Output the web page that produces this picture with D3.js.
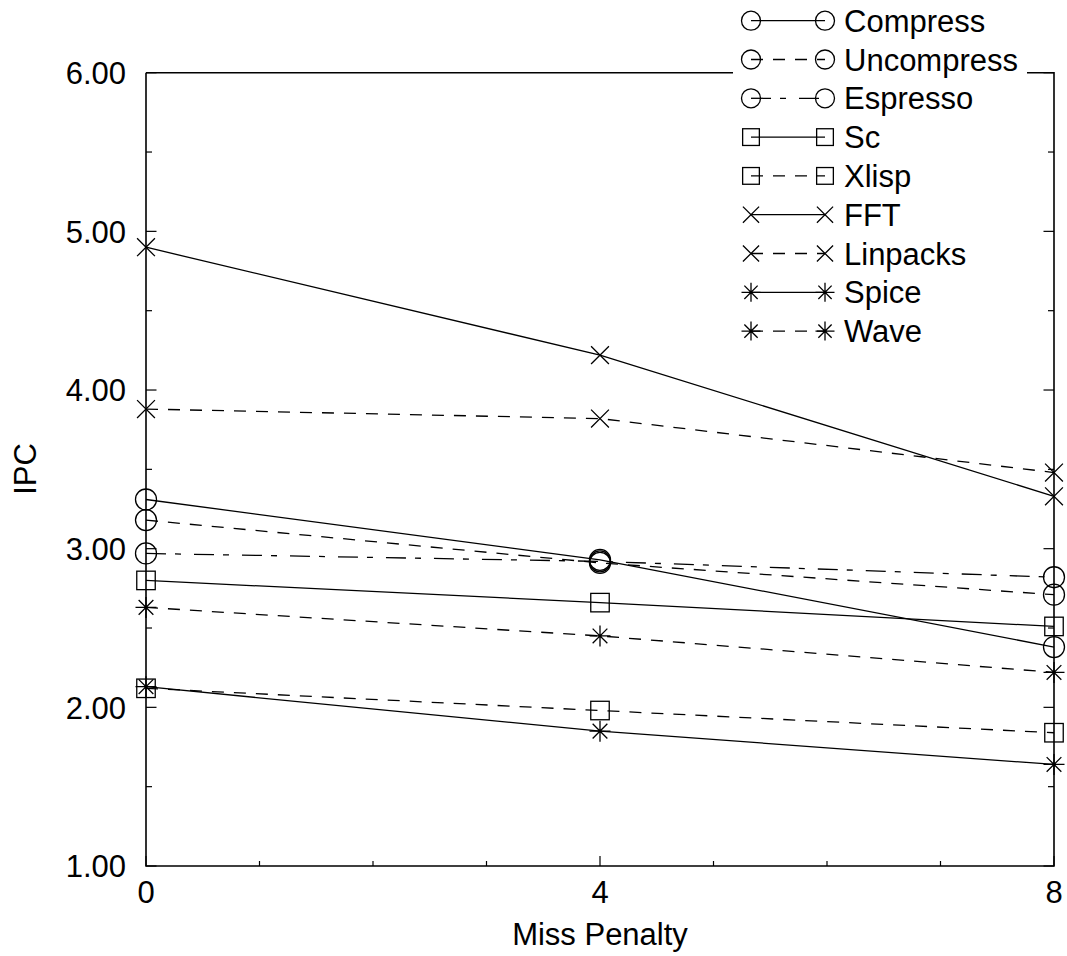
<!DOCTYPE html>
<html>
<head>
<meta charset="utf-8">
<script src="https://cdn.jsdelivr.net/npm/d3@7"></script>
<style>
  body { margin: 0; background: #fff; }
  text { font-family: "Liberation Sans", Arial, sans-serif; fill: #000; }
</style>
</head>
<body>
<script>
  // data
  var missPenalty = [0, 4, 8];
  var names = ['Compress', 'Uncompress', 'Espresso', 'Sc', 'Xlisp', 'FFT', 'Linpacks', 'Spice', 'Wave'];
  var compress   = [3.31, 2.93, 2.38];
  var uncompress = [3.18, 2.91, 2.71];
  var espresso   = [2.97, 2.92, 2.82];
  var sc         = [2.80, 2.66, 2.51];
  var xlisp      = [2.12, 1.98, 1.84];
  var fft        = [4.90, 4.22, 3.33];
  var linpacks   = [3.88, 3.82, 3.48];
  var spice      = [2.13, 1.85, 1.64];
  var wave       = [2.63, 2.45, 2.22];
  var yTicks = [1, 2, 3, 4, 5, 6];
  var xTicks = [0, 4, 8];

  var values = [compress, uncompress, espresso, sc, xlisp, fft, linpacks, spice, wave];
  var markers = ['circle', 'circle', 'circle', 'square', 'square', 'cross', 'cross', 'star', 'star'];
  var dashes = [null, '12,10', '20,9,6,13', null, '12,10', null, '12,10', null, '12,10'];

  var width = 1067, height = 956;
  var plotLeft = 146, plotRight = 1054, plotTop = 72.7, plotBottom = 866;
  var fontSize = 31;

  var svg = d3.select('body').append('svg').attr('width', width).attr('height', height);

  var x = d3.scaleLinear().domain([0, 8]).range([plotLeft, plotRight]);
  var y = d3.scaleLinear().domain([1, 6]).range([plotBottom, plotTop]);

  // frame: left, bottom, right, top
  var frame = svg.append('g').attr('stroke', '#000').attr('stroke-width', 1.6).attr('fill', 'none');
  frame.append('path').attr('d', 'M' + plotLeft + ',' + plotTop + 'V' + plotBottom + 'H' + plotRight + 'V' + plotTop + 'H' + plotLeft);

  // inward ticks on the left and right sides
  d3.range(1, 6.01, 0.5).forEach(function (v) {
    var len = (v % 1 === 0) ? 10.5 : 6;
    frame.append('line').attr('x1', plotLeft).attr('x2', plotLeft + len).attr('y1', y(v)).attr('y2', y(v)).attr('stroke-width', 1.2);
    frame.append('line').attr('x1', plotRight).attr('x2', plotRight - len).attr('y1', y(v)).attr('y2', y(v)).attr('stroke-width', 1.2);
  });
  d3.range(0, 8.01, 1).forEach(function (v) {
    var len = (v % 4 === 0) ? 10 : 5;
    frame.append('line').attr('x1', x(v)).attr('x2', x(v)).attr('y1', plotBottom).attr('y2', plotBottom - len).attr('stroke-width', 1.2);
  });

  // tick labels
  svg.selectAll('.ylab').data(yTicks).enter().append('text')
     .attr('class', 'ylab')
     .attr('x', 126)
     .attr('y', function (d) { return y(d); })
     .attr('dy', '0.36em')
     .attr('text-anchor', 'end')
     .attr('font-size', fontSize)
     .text(function (d) { return d.toFixed(2); });

  svg.selectAll('.xlab').data(xTicks).enter().append('text')
     .attr('class', 'xlab')
     .attr('x', function (d) { return x(d); })
     .attr('y', 903)
     .attr('text-anchor', 'middle')
     .attr('font-size', fontSize)
     .text(function (d) { return d; });

  svg.append('text').attr('x', x(4)).attr('y', 945).attr('text-anchor', 'middle')
     .attr('font-size', fontSize).text('Miss Penalty');
  svg.append('text').attr('transform', 'translate(36,469) rotate(-90)').attr('text-anchor', 'middle')
     .attr('font-size', fontSize).text('IPC');

  // marker drawing
  function drawMarker(g, kind, cx, cy, r) {
    if (kind === 'circle') {
      g.append('circle').attr('cx', cx).attr('cy', cy).attr('r', r);
    } else if (kind === 'square') {
      var s = r * 0.88;
      g.append('rect').attr('x', cx - s).attr('y', cy - s).attr('width', 2 * s).attr('height', 2 * s);
    } else if (kind === 'cross') {
      var c = r * 0.85;
      g.append('path').attr('d', 'M' + (cx - c) + ',' + (cy - c) + 'L' + (cx + c) + ',' + (cy + c) +
        'M' + (cx - c) + ',' + (cy + c) + 'L' + (cx + c) + ',' + (cy - c));
    } else {
      var a = r * 0.7, b = r;
      g.append('path').attr('d', 'M' + (cx - a) + ',' + (cy - a) + 'L' + (cx + a) + ',' + (cy + a) +
        'M' + (cx - a) + ',' + (cy + a) + 'L' + (cx + a) + ',' + (cy - a) +
        'M' + cx + ',' + (cy - b) + 'L' + cx + ',' + (cy + b) +
        'M' + (cx - b) + ',' + cy + 'L' + (cx + b) + ',' + cy);
    }
  }

  var line = d3.line()
     .x(function (d, i) { return x(missPenalty[i]); })
     .y(function (d) { return y(d); });

  // series lines and markers
  values.forEach(function (vals, k) {
    var g = svg.append('g').attr('fill', 'none').attr('stroke', '#000').attr('stroke-width', 1.3);
    g.append('path').attr('d', line(vals)).attr('stroke-dasharray', dashes[k]);
    vals.forEach(function (v, i) {
      drawMarker(g, markers[k], x(missPenalty[i]), y(v), 10.5);
    });
  });

  // legend on a white patch over the top of the frame
  var legend = svg.append('g');
  legend.append('rect').attr('x', 733).attr('y', 0).attr('width', 294).attr('height', 345).attr('fill', '#fff');
  names.forEach(function (name, k) {
    var ly = 20.7 + k * 38.8;
    var g = legend.append('g').attr('fill', 'none').attr('stroke', '#000').attr('stroke-width', 1.3);
    g.append('line').attr('x1', 751).attr('x2', 825).attr('y1', ly).attr('y2', ly).attr('stroke-dasharray', dashes[k]);
    drawMarker(g, markers[k], 751, ly, 9.5);
    drawMarker(g, markers[k], 825, ly, 9.5);
    legend.append('text').attr('x', 844).attr('y', ly).attr('dy', '0.36em')
       .attr('font-size', fontSize).text(name);
  });
</script>
</body>
</html>
